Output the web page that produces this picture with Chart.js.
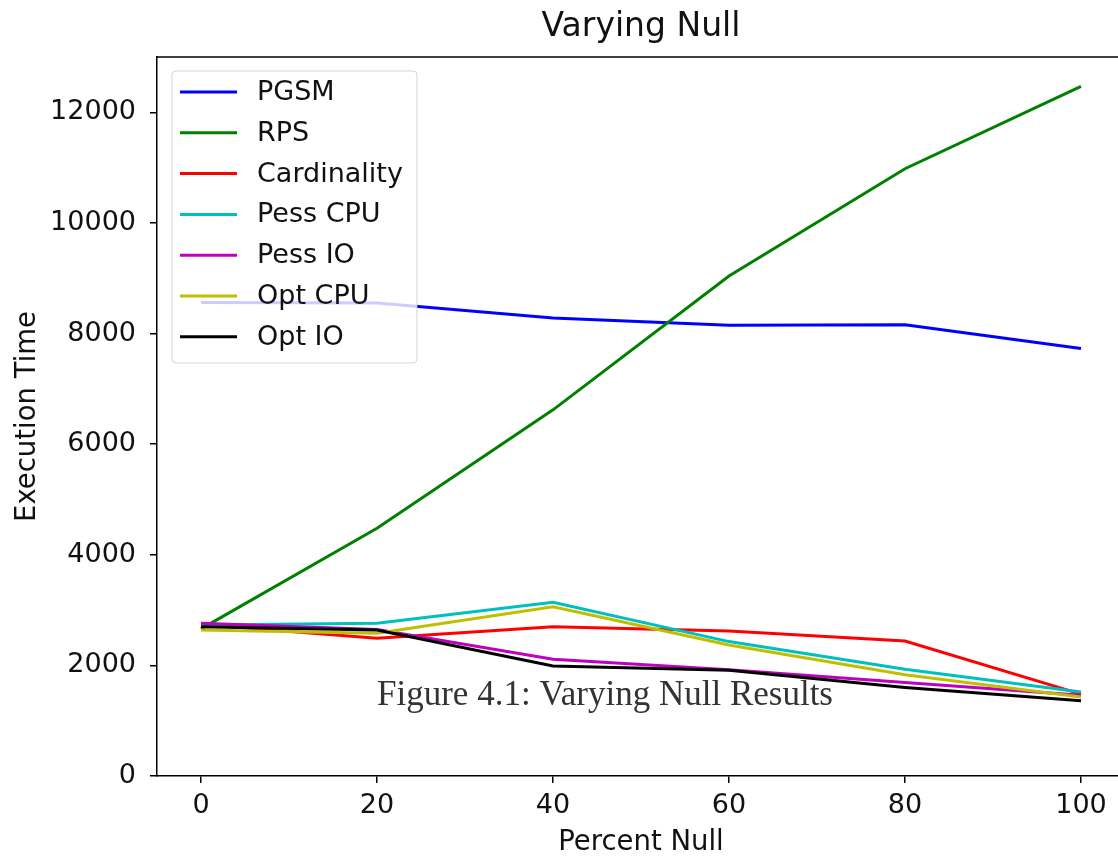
<!DOCTYPE html>
<html>
<head>
<meta charset="utf-8">
<script src="https://cdn.jsdelivr.net/npm/chart.js@4/dist/chart.umd.min.js"></script>
<style>
  body { margin: 0; background: #fff; overflow: hidden; }
  #wrap { width: 1118px; height: 858px; overflow: hidden; }
</style>
</head>
<body>
<div id="wrap"><canvas id="chart" width="1140" height="858"></canvas></div>
<script>
// percent null (x)
var percentNull = [0, 20, 40, 60, 80, 100];

// execution times
var pgsm        = [8560, 8550, 8280, 8150, 8160, 7730];
var rps         = [2660, 4480, 6620, 9040, 10980, 12470];
var cardinality = [2740, 2490, 2700, 2620, 2440, 1480];
var pessCpu     = [2730, 2760, 3140, 2430, 1930, 1520];
var pessIo      = [2760, 2650, 2110, 1920, 1690, 1460];
var optCpu      = [2640, 2580, 3060, 2370, 1830, 1430];
var optIo       = [2700, 2640, 1990, 1910, 1600, 1360];

var seriesNames  = ["PGSM", "RPS", "Cardinality", "Pess CPU", "Pess IO", "Opt CPU", "Opt IO"];
var seriesValues = [pgsm, rps, cardinality, pessCpu, pessIo, optCpu, optIo];
var seriesColors = ["#0000ff", "#008000", "#ff0000", "#00bfbf", "#bf00bf", "#bfbf00", "#000000"];

var xTicks = [0, 20, 40, 60, 80, 100];
var yTicks = [0, 2000, 4000, 6000, 8000, 10000, 12000];

var FONT = "'DejaVu Sans', sans-serif";

function points(vals) {
    return vals.map(function(v, i) { return {x: percentNull[i], y: v}; });
}

var datasets = seriesNames.map(function(name, i) {
    return {
        label: name,
        data: points(seriesValues[i]),
        borderColor: seriesColors[i],
        backgroundColor: seriesColors[i],
        borderWidth: 3,
        pointRadius: 0,
        tension: 0,
        fill: false,
        order: seriesNames.length - i   // later series drawn on top
    };
});

// title over plot area, top spine, legend box, caption
var extras = {
    id: 'extras',
    afterDatasetsDraw: function(chart) {
        var ctx = chart.ctx;
        var a = chart.chartArea;

        // title (centred on the axes, like matplotlib)
        ctx.save();
        ctx.font = '33px ' + FONT;
        ctx.fillStyle = '#111';
        ctx.textAlign = 'center';
        ctx.textBaseline = 'middle';
        ctx.fillText('Varying Null', (a.left + a.right) / 2, 27);
        ctx.restore();

        // top spine
        ctx.save();
        ctx.strokeStyle = '#000';
        ctx.lineWidth = 1.5;
        ctx.beginPath();
        ctx.moveTo(a.left, a.top);
        ctx.lineTo(a.right, a.top);
        ctx.stroke();
        ctx.restore();

        // legend
        var bx = 172, by = 71, bw = 245, bh = 292;
        ctx.save();
        ctx.fillStyle = 'rgba(255,255,255,0.8)';
        ctx.strokeStyle = 'rgba(204,204,204,0.8)';
        ctx.lineWidth = 1;
        ctx.beginPath();
        ctx.roundRect(bx, by, bw, bh, 4);
        ctx.fill();
        ctx.stroke();
        ctx.font = '27px ' + FONT;
        ctx.textBaseline = 'middle';
        ctx.fillStyle = '#111';
        chart.data.datasets.forEach(function(ds, i) {
            var y = 92 + i * 40.8;
            ctx.strokeStyle = ds.borderColor;
            ctx.lineWidth = 3;
            ctx.beginPath();
            ctx.moveTo(180, y);
            ctx.lineTo(237, y);
            ctx.stroke();
            ctx.fillText(ds.label, 257, y + 1);
        });
        ctx.restore();

        // caption
        ctx.save();
        ctx.font = '35px "Liberation Serif", "Times New Roman", serif';
        ctx.fillStyle = '#333';
        ctx.textAlign = 'center';
        ctx.textBaseline = 'alphabetic';
        ctx.fillText('Figure 4.1: Varying Null Results', 605, 705);
        ctx.restore();
    }
};

var ctx = document.getElementById('chart').getContext('2d');
var chart = new Chart(ctx, {
    type: 'line',
    data: { datasets: datasets },
    options: {
        responsive: false,
        animation: false,
        layout: { padding: { left: 0, right: 15, top: 57, bottom: 0 } },
        plugins: {
            legend: { display: false },
            tooltip: { enabled: false },
            title: { display: false }
        },
        scales: {
            x: {
                type: 'linear',
                min: -5,
                max: 105,
                afterBuildTicks: function(scale) {
                    scale.ticks = xTicks.map(function(v) { return {value: v}; });
                },
                afterFit: function(scale) { scale.height = 82; },
                grid: { drawOnChartArea: false, drawTicks: true, tickLength: 7, color: '#000', lineWidth: 1.5 },
                border: { display: true, color: '#000', width: 1.5 },
                ticks: {
                    color: '#111', font: { family: FONT, size: 27 }, padding: 7, maxRotation: 0,
                    callback: function(v) { return String(v); }
                },
                title: {
                    display: true,
                    text: 'Percent Null',
                    color: '#111',
                    font: { family: FONT, size: 27.5, lineHeight: 1.1 },
                    padding: { top: 0, bottom: 0 }
                }
            },
            y: {
                type: 'linear',
                min: 0,
                max: 13000,
                afterBuildTicks: function(scale) {
                    scale.ticks = yTicks.map(function(v) { return {value: v}; });
                },
                afterFit: function(scale) { scale.width = 157; },
                grid: { drawOnChartArea: false, drawTicks: true, tickLength: 7, color: '#000', lineWidth: 1.5 },
                border: { display: true, color: '#000', width: 1.5 },
                ticks: {
                    color: '#111', font: { family: FONT, size: 27 }, padding: 14,
                    callback: function(v) { return String(v); }
                },
                title: {
                    display: true,
                    text: 'Execution Time',
                    color: '#111',
                    font: { family: FONT, size: 27.5, lineHeight: 1.2 },
                    padding: { top: 11, bottom: 0 }
                }
            }
        }
    },
    plugins: [extras]
});
</script>
</body>
</html>
